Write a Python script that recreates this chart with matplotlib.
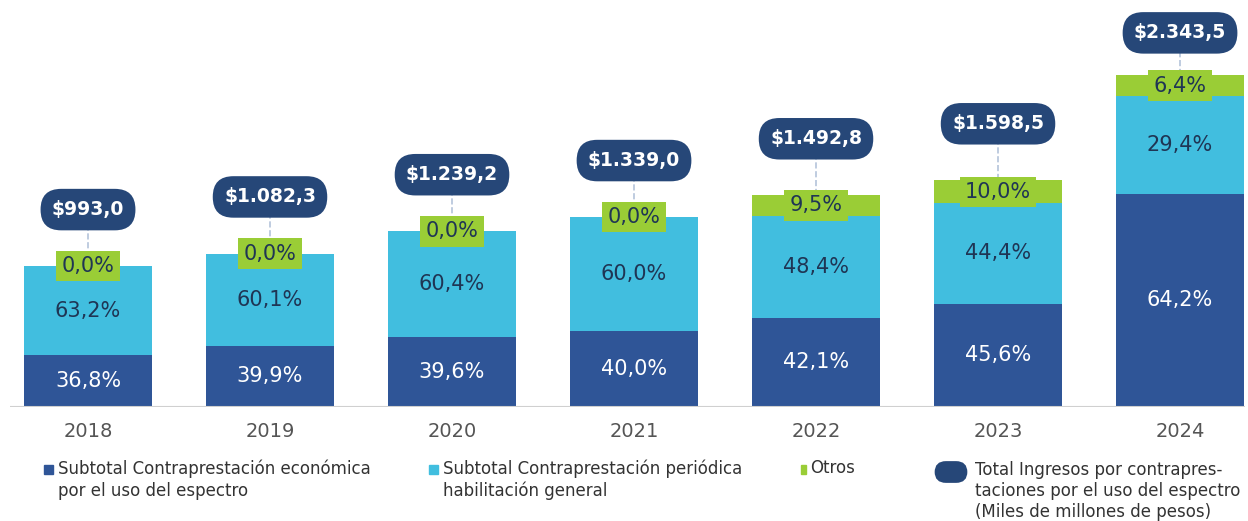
import numpy as np
import matplotlib.pyplot as plt

# data
years = ['2018', '2019', '2020', '2021', '2022', '2023', '2024']
totals = np.array([993.0, 1082.3, 1239.2, 1339.0, 1492.8, 1598.5, 2343.5])
pct_economica = np.array([36.8, 39.9, 39.6, 40.0, 42.1, 45.6, 64.2])
pct_periodica = np.array([63.2, 60.1, 60.4, 60.0, 48.4, 44.4, 29.4])
pct_otros = np.array([0.0, 0.0, 0.0, 0.0, 9.5, 10.0, 6.4])
total_labels = ['$993,0', '$1.082,3', '$1.239,2', '$1.339,0', '$1.492,8', '$1.598,5', '$2.343,5']

c_dark = '#2F5597'
c_light = '#41BEDF'
c_green = '#9ACD36'
c_pill = '#264778'
c_txt = '#1F3554'

def fmt(v):
    return f'{v:.1f}'.replace('.', ',') + '%'

fig = plt.figure(figsize=(12.48, 5.21), dpi=100)
ax = fig.add_axes([10 / 1248, 114 / 521, 1235 / 1248, 407 / 521])
ax.set_xlim(-0.4286, 6.357)
ax.set_ylim(0, 2872)

x = np.arange(len(years))
w = 0.70
h_eco = totals * pct_economica / 100
h_per = totals * pct_periodica / 100
h_otr = totals * pct_otros / 100

ax.bar(x, h_eco, w, color=c_dark, zorder=2)
ax.bar(x, h_per, w, bottom=h_eco, color=c_light, zorder=2)
ax.bar(x, h_otr, w, bottom=h_eco + h_per, color=c_green, zorder=2)

for i in range(len(years)):
    ax.text(x[i], h_eco[i] / 2, fmt(pct_economica[i]), ha='center', va='center',
            color='white', fontsize=15, zorder=4)
    ax.text(x[i], h_eco[i] + h_per[i] / 2, fmt(pct_periodica[i]), ha='center', va='center',
            color=c_txt, fontsize=15, zorder=4)
    yo = h_eco[i] + h_per[i] + h_otr[i] / 2
    ax.text(x[i], yo, fmt(pct_otros[i]), ha='center', va='center', color=c_txt, fontsize=15,
            zorder=5, bbox=dict(boxstyle='square,pad=0.25', facecolor=c_green, edgecolor='none'))
    # total pill above the bar
    py = min(totals[i] + 400, 2640)
    ax.plot([x[i], x[i]], [totals[i], py], color='#B4C3DA', lw=1.2, ls='--', zorder=1)
    ax.text(x[i], py, total_labels[i], ha='center', va='center', color='white', fontsize=13.5,
            fontweight='bold', zorder=6,
            bbox=dict(boxstyle='round,pad=0.6,rounding_size=1.1', facecolor=c_pill,
                      edgecolor='none'))

ax.axhline(0, color='#D0D0D0', lw=1.5, zorder=3)
for s in ax.spines.values():
    s.set_visible(False)
ax.set_yticks([])
ax.set_xticks(x)
ax.set_xticklabels(years, fontsize=14, color='#555555')
ax.tick_params(axis='x', length=0, pad=11)

# legend drawn by hand
fs = 12
lc = '#333333'
ty = 1 - 459 / 521
fig.patches.append(plt.Rectangle((44 / 1248, 1 - 474 / 521), 9 / 1248, 9 / 521,
                                 transform=fig.transFigure, color=c_dark, figure=fig))
fig.text(58 / 1248, ty, 'Subtotal Contraprestación económica\npor el uso del espectro',
         fontsize=fs, color=lc, va='top', linespacing=1.3)
fig.patches.append(plt.Rectangle((429 / 1248, 1 - 474 / 521), 9 / 1248, 9 / 521,
                                 transform=fig.transFigure, color=c_light, figure=fig))
fig.text(443 / 1248, ty, 'Subtotal Contraprestación periódica\nhabilitación general',
         fontsize=fs, color=lc, va='top', linespacing=1.3)
fig.patches.append(plt.Rectangle((801 / 1248, 1 - 474 / 521), 5 / 1248, 9 / 521,
                                 transform=fig.transFigure, color=c_green, figure=fig))
fig.text(810 / 1248, ty, 'Otros', fontsize=fs, color=lc, va='top')
fig.text(951 / 1248, 1 - 472 / 521, '      ', fontsize=9, ha='center', va='center',
         bbox=dict(boxstyle='round,pad=0.35,rounding_size=0.9', facecolor=c_pill, edgecolor='none'))
fig.text(975 / 1248, 1 - 461 / 521,
         'Total Ingresos por contrapres-\ntaciones por el uso del espectro\n(Miles de millones de pesos)',
         fontsize=fs, color=lc, va='top', linespacing=1.2)

fig.savefig('out.png', dpi=100)
